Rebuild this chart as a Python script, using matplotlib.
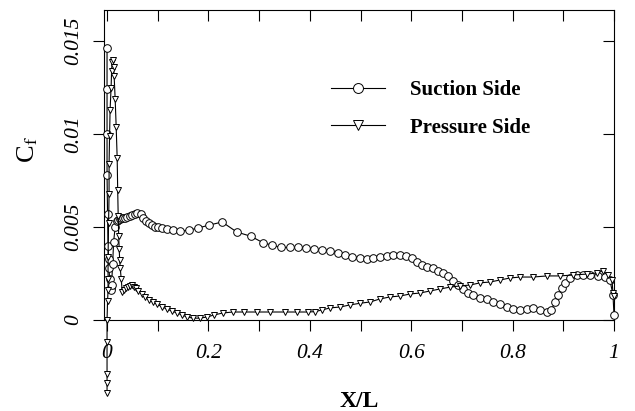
import matplotlib
matplotlib.use("Agg")
import matplotlib.pyplot as plt
from matplotlib.ticker import MultipleLocator, FixedLocator

# suction side: X/L and Cf
suction_x = [0.0, 0.0, 0.0, 0.0, 0.001, 0.002, 0.003, 0.004, 0.005, 0.007,
             0.008, 0.009, 0.011, 0.013, 0.016, 0.019, 0.022, 0.025, 0.028, 0.032,
             0.036, 0.040, 0.045, 0.050, 0.055, 0.060, 0.066, 0.071, 0.077, 0.083,
             0.089, 0.095, 0.100, 0.109, 0.118, 0.130, 0.144, 0.162, 0.180, 0.201,
             0.227, 0.256, 0.284, 0.308, 0.325, 0.343, 0.361, 0.376, 0.392, 0.408,
             0.424, 0.440, 0.456, 0.470, 0.483, 0.499, 0.513, 0.525, 0.538, 0.552,
             0.564, 0.578, 0.590, 0.601, 0.611, 0.621, 0.631, 0.643, 0.653, 0.663,
             0.673, 0.682, 0.692, 0.702, 0.712, 0.722, 0.736, 0.750, 0.761, 0.775,
             0.789, 0.801, 0.815, 0.828, 0.840, 0.854, 0.868, 0.876, 0.884, 0.890,
             0.897, 0.903, 0.913, 0.927, 0.939, 0.953, 0.968, 0.982, 0.992, 0.998,
             1.0]
suction_cf = [0.0146, 0.0124, 0.0100, 0.0078, 0.0057, 0.0040, 0.0033, 0.0028, 0.0022, 0.0017,
              0.0016, 0.0019, 0.0030, 0.0042, 0.0050, 0.0053, 0.0054, 0.00545, 0.0055, 0.0055,
              0.0055, 0.00555, 0.0056, 0.00565, 0.0057, 0.00575, 0.0057, 0.0055, 0.0053, 0.0052,
              0.0051, 0.0050, 0.0050, 0.00495, 0.0049, 0.00483, 0.00478, 0.00483, 0.00495, 0.0051,
              0.00527, 0.00473, 0.0045, 0.00415, 0.00403, 0.0039, 0.0039, 0.0039, 0.00387, 0.00382,
              0.00376, 0.0037, 0.0036, 0.0035, 0.0034, 0.00333, 0.0033, 0.00333, 0.0034, 0.00344,
              0.0035, 0.0035, 0.00344, 0.00333, 0.00312, 0.00296, 0.00285, 0.0028, 0.00264, 0.00253,
              0.00237, 0.0021, 0.00188, 0.00167, 0.00145, 0.00134, 0.00118, 0.00113, 0.00097, 0.00086,
              0.0007, 0.00059, 0.00054, 0.00059, 0.00065, 0.00054, 0.00043, 0.00054, 0.00097, 0.00134,
              0.0017, 0.0020, 0.00226, 0.00242, 0.00242, 0.00242, 0.00237, 0.0023, 0.00215, 0.00134,
              0.00027]

# pressure side: X/L and Cf
pressure_x = [0.0, 0.0, 0.0, 0.0, 0.0, 0.001, 0.002, 0.002, 0.002, 0.003,
              0.004, 0.004, 0.005, 0.006, 0.008, 0.009, 0.010, 0.012, 0.013, 0.014,
              0.016, 0.018, 0.020, 0.021, 0.022, 0.023, 0.024, 0.025, 0.026, 0.028,
              0.030, 0.033, 0.037, 0.041, 0.045, 0.049, 0.053, 0.057, 0.062, 0.068,
              0.075, 0.082, 0.090, 0.098, 0.108, 0.118, 0.128, 0.138, 0.148, 0.158,
              0.170, 0.183, 0.197, 0.211, 0.229, 0.249, 0.270, 0.296, 0.321, 0.351,
              0.374, 0.396, 0.410, 0.424, 0.440, 0.460, 0.479, 0.499, 0.519, 0.538,
              0.558, 0.578, 0.598, 0.617, 0.637, 0.657, 0.677, 0.696, 0.716, 0.736,
              0.755, 0.775, 0.795, 0.815, 0.840, 0.868, 0.893, 0.919, 0.947, 0.966,
              0.978, 0.988, 0.996, 0.998, 1.0]
pressure_cf = [-0.0039, -0.0034, -0.0029, -0.0012, 0.0, 0.0010, 0.0016, 0.0022, 0.0034, 0.0052,
               0.0068, 0.0084, 0.0099, 0.0113, 0.0125, 0.0134, 0.0139, 0.0140, 0.0136, 0.0131,
               0.0119, 0.0104, 0.0087, 0.0070, 0.0056, 0.0045, 0.0038, 0.0032, 0.0028, 0.0022,
               0.0015, 0.0016, 0.0017, 0.0018, 0.00185, 0.00188, 0.0018, 0.0017, 0.00155, 0.0014,
               0.00124, 0.0011, 0.00098, 0.00086, 0.00072, 0.00059, 0.00048, 0.00038, 0.00027, 0.00016,
               0.0001, 0.0001, 0.00016, 0.00027, 0.00038, 0.00043, 0.00043, 0.00043, 0.00043, 0.00043,
               0.00043, 0.00043, 0.00045, 0.00054, 0.00065, 0.0007, 0.00081, 0.0009, 0.00097, 0.00113,
               0.00124, 0.00129, 0.0014, 0.00145, 0.00156, 0.00167, 0.00177, 0.00183, 0.00188, 0.0020,
               0.00204, 0.00215, 0.00226, 0.00231, 0.00231, 0.00237, 0.00237, 0.00242, 0.00247, 0.00253,
               0.00264, 0.00242, 0.00215, 0.00145, 0.0013]

x_ticks = [0, 0.2, 0.4, 0.6, 0.8, 1]
x_labels = ["0", "0.2", "0.4", "0.6", "0.8", "1"]
y_ticks = [0, 0.005, 0.01, 0.015]
y_labels = ["0", "0.005", "0.01", "0.015"]

plt.rcParams['font.family'] = ['Liberation Serif', 'DejaVu Serif']
plt.rcParams['mathtext.fontset'] = 'stix'

fig = plt.figure(figsize=(6.35, 4.11), dpi=100)
ax = fig.add_axes([104 / 635, 1 - 320 / 411, 510 / 635, 310 / 411])

ax.plot(suction_x, suction_cf, color='black', lw=0.8, marker='o', ms=5.5,
        mfc='white', mec='black', mew=0.7, label='Suction Side', clip_on=False, zorder=3)
ax.plot(pressure_x, pressure_cf, color='black', lw=0.8, marker='v', ms=5,
        mfc='white', mec='black', mew=0.7, label='Pressure Side', clip_on=False, zorder=3)

ax.set_xlim(-0.006, 1.0)
ax.set_ylim(0, 0.01667)

ax.xaxis.set_major_locator(FixedLocator(x_ticks))
ax.set_xticklabels(x_labels, fontstyle='italic', fontsize=15.5)
ax.xaxis.set_minor_locator(MultipleLocator(0.1))
ax.yaxis.set_major_locator(FixedLocator(y_ticks))
ax.set_yticklabels(y_labels, fontstyle='italic', fontsize=15.5, rotation=90, va='center')

ax.tick_params(axis='x', which='both', direction='out', length=8, width=0.8, pad=9,
               top=True)
ax.tick_params(axis='y', which='both', direction='out', length=8, width=0.8, pad=7,
               right=True)
# top and right ticks point inward
for t in ax.xaxis.get_major_ticks() + ax.xaxis.get_minor_ticks():
    t.tick2line.set_marker(3)
for t in ax.yaxis.get_major_ticks():
    t.tick2line.set_marker(0)

for s in ax.spines.values():
    s.set_linewidth(0.8)

ax.set_xlabel('X/L', fontsize=17, fontweight='bold')
ax.xaxis.set_label_coords(0.50, -0.23)
ax.set_ylabel('C$_\\mathrm{f}$', fontsize=19)
ax.yaxis.set_label_coords(-0.125, 0.55)

leg = ax.legend(loc='upper left', bbox_to_anchor=(0.408, 0.835), frameon=False,
                handlelength=2.6, handletextpad=1.2, labelspacing=0.85,
                markerscale=1.3, prop={'weight': 'bold', 'size': 15})

fig.savefig('out.png', dpi=100)
